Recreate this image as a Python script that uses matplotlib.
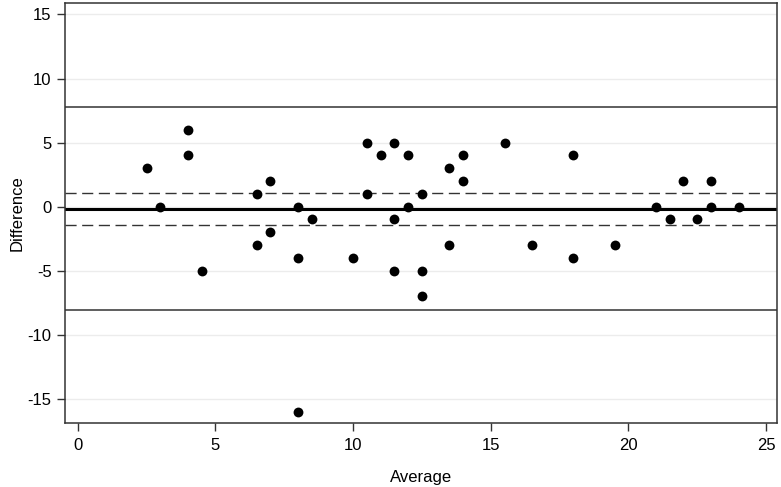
import matplotlib
matplotlib.use("Agg")
import matplotlib.pyplot as plt

plt.rcParams['font.family'] = ['Liberation Sans', 'DejaVu Sans']
plt.rcParams['axes.unicode_minus'] = False

# Bland-Altman data
average = [2.5, 3, 4, 4, 4.5, 6.5, 6.5, 7, 7, 8, 8, 8, 8.5, 10, 10.5, 10.5, 11,
           11.5, 11.5, 11.5, 12, 12, 12.5, 12.5, 12.5, 13.5, 13.5, 14, 14, 15.5,
           16.5, 18, 18, 19.5, 21, 21.5, 22, 22.5, 23, 23, 24]
difference = [3, 0, 6, 4, -5, 1, -3, 2, -2, 0, -4, -16, -1, -4, 5, 1, 4,
              5, -1, -5, 4, 0, 1, -5, -7, 3, -3, 4, 2, 5,
              -3, 4, -4, -3, 0, -1, 2, -1, 2, 0, 0]

mean_diff = -0.15
loa = [7.8, -8.1]
ci = [1.1, -1.4]
xticks = [0, 5, 10, 15, 20, 25]
yticks = [-15, -10, -5, 0, 5, 10, 15]

fig = plt.figure(figsize=(7.81, 4.87), dpi=100)
ax = fig.add_axes([0.083, 0.131, 0.912, 0.863])

for y in yticks:
    ax.axhline(y, color="#ececec", lw=1, zorder=0)

for y in loa:
    ax.axhline(y, color="#333333", lw=1.1, zorder=1)
for y in ci:
    ax.axhline(y, color="#333333", lw=1.0, dashes=(8, 4), zorder=1)
ax.axhline(mean_diff, color="black", lw=2.2, zorder=1)

ax.scatter(average, difference, s=50, color="black", zorder=3, linewidths=0)

ax.set_xlim(-0.47, 25.4)
ax.set_ylim(-16.9, 15.9)
ax.set_xticks(xticks)
ax.set_yticks(yticks)
ax.tick_params(direction="out", length=6, width=1, labelsize=12, color="#333333")
ax.tick_params(axis="x", pad=5)
for s in ax.spines.values():
    s.set_color("#333333")
    s.set_linewidth(1.1)

ax.set_xlabel("Average", fontsize=12, labelpad=12)
ax.set_ylabel("Difference", fontsize=12, labelpad=2)

fig.savefig("out.png", dpi=100)
